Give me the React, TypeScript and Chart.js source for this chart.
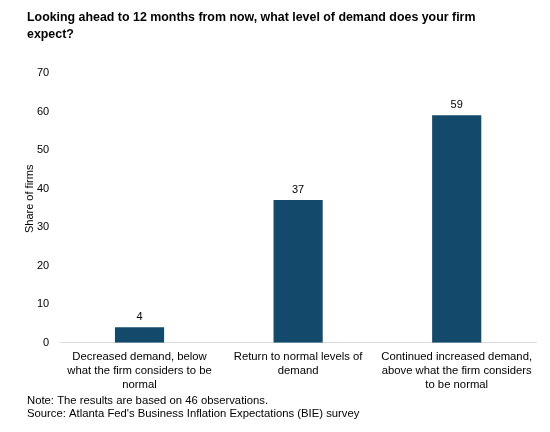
import React, { useEffect, useRef } from "react";
import { Chart, registerables } from "chart.js";

Chart.register(...registerables);

const categories: string[][] = [
  ["Decreased demand, below", "what the firm considers to be", "normal"],
  ["Return to normal levels of", "demand"],
  ["Continued increased demand,", "above what the firm considers", "to be normal"],
];
const shares: number[] = [4, 37, 59];
const titleLines: string[] = [
  "Looking ahead to 12 months from now, what level of demand does your firm",
  "expect?",
];
const yAxisTitle = "Share of firms";
const noteLines: string[] = [
  "Note: The results are based on 46 observations.",
  "Source: Atlanta Fed's Business Inflation Expectations (BIE) survey",
];

const FONT = "'Liberation Sans', Arial, sans-serif";
const BAR_COLOR = "#134a6b";

const textPlugin = {
  id: "textPlugin",
  afterDraw(chart: any) {
    const ctx = chart.ctx as CanvasRenderingContext2D;
    const area = chart.chartArea;
    ctx.save();
    ctx.fillStyle = "#000";
    ctx.textAlign = "left";
    ctx.textBaseline = "middle";
    ctx.font = `bold 12.4px ${FONT}`;
    titleLines.forEach((t, i) => ctx.fillText(t, 27, 18 + i * 17));
    ctx.font = `11.3px ${FONT}`;
    noteLines.forEach((t, i) => ctx.fillText(t, 27, 401 + i * 13));

    // rotated y-axis title
    ctx.save();
    ctx.translate(30, (area.top + area.bottom) / 2 - 9);
    ctx.rotate(-Math.PI / 2);
    ctx.textAlign = "center";
    ctx.font = `11px ${FONT}`;
    ctx.fillText(yAxisTitle, 0, 0);
    ctx.restore();

    // value labels above bars
    const meta = chart.getDatasetMeta(0);
    ctx.textAlign = "center";
    ctx.textBaseline = "bottom";
    ctx.font = `11px ${FONT}`;
    meta.data.forEach((bar: any, i: number) => {
      ctx.fillText(String(shares[i]), bar.x, bar.y - 5);
    });
    ctx.restore();
  },
};

export default function App() {
  const ref = useRef<HTMLCanvasElement | null>(null);
  useEffect(() => {
    if (!ref.current) return;
    const chart = new Chart(ref.current, {
      type: "bar",
      data: {
        labels: categories,
        datasets: [
          {
            data: shares,
            backgroundColor: BAR_COLOR,
            barPercentage: 0.31,
            categoryPercentage: 1,
          },
        ],
      },
      options: {
        animation: false,
        responsive: false,
        layout: { padding: { top: 73, left: 26, right: 14, bottom: 33 } },
        plugins: {
          legend: { display: false },
          tooltip: { enabled: false },
          title: { display: false },
        },
        scales: {
          x: {
            grid: { display: false, drawTicks: false },
            border: { display: true, color: "#d9d9d9", width: 1 },
            ticks: {
              color: "#000",
              font: { family: FONT, size: 11.3, lineHeight: 1.25 },
              padding: 7,
              maxRotation: 0,
              autoSkip: false,
            },
          },
          y: {
            min: 0,
            max: 70,
            grid: { display: false, drawTicks: false },
            border: { display: false },
            ticks: {
              stepSize: 10,
              color: "#000",
              font: { family: FONT, size: 11 },
              padding: 11,
            },
          },
        },
      },
      plugins: [textPlugin],
    });
    return () => chart.destroy();
  }, []);
  return (
    <div style={{ position: "fixed", left: 0, top: 0, width: 550, height: 432, background: "#fff" }}>
      <canvas ref={ref} width={550} height={432} />
    </div>
  );
}
